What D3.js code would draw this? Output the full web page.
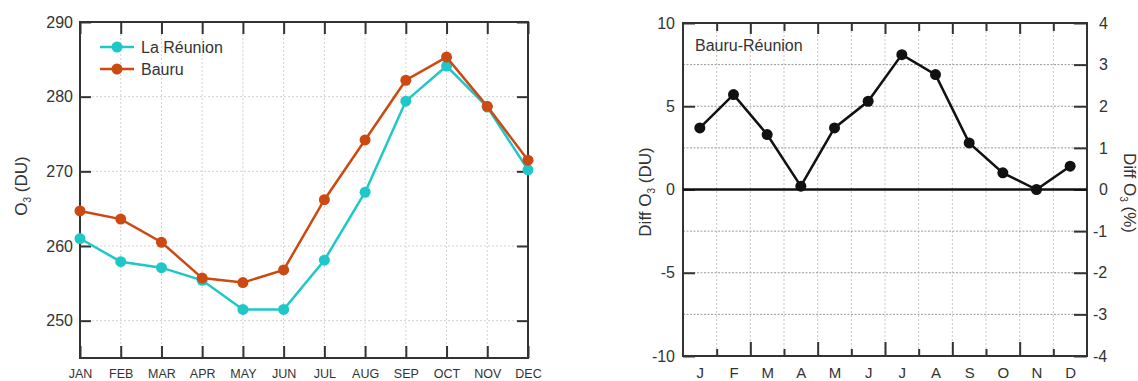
<!DOCTYPE html>
<html>
<head>
<meta charset="utf-8">
<script src="https://cdn.jsdelivr.net/npm/d3@7"></script>
<style>
  body { margin: 0; background: #fff; }
  svg { display: block; font-family: "Liberation Sans", Arial, sans-serif; }
  text { fill: #333; }
</style>
</head>
<body>
<svg id="chart" width="1138" height="381"></svg>
<script>
// ---------- data ----------
const monthsLong = ["JAN","FEB","MAR","APR","MAY","JUN","JUL","AUG","SEP","OCT","NOV","DEC"];
const monthsShort = ["J","F","M","A","M","J","J","A","S","O","N","D"];
const reunion = [261.0, 257.9, 257.1, 255.4, 251.5, 251.5, 258.1, 267.2, 279.4, 284.1, 278.6, 270.2];
const bauru   = [264.7, 263.6, 260.5, 255.7, 255.1, 256.8, 266.2, 274.2, 282.2, 285.3, 278.7, 271.5];
const diffDU  = [3.7, 5.7, 3.3, 0.2, 3.7, 5.3, 8.1, 6.9, 2.8, 1.0, 0.0, 1.4];
const leftYTicks = [250, 260, 270, 280, 290];
const diffYTicks = [-10, -5, 0, 5, 10];
const diffPctTicks = [-4, -3, -2, -1, 0, 1, 2, 3, 4];
const seriesNames = ["La Réunion", "Bauru"];

const cyan = "#1fc8c8", orange = "#cc4a12", frameCol = "#333";
const svg = d3.select("#chart");
const fmtInt = d => String(d); // plain hyphen-minus like the reference

// ---------- left chart ----------
const L = {l: 80, r: 528, t: 22, b: 358};
const xL = d3.scaleLinear().domain([0, 11]).range([L.l, L.r]);
const yL = d3.scaleLinear().domain([245, 290]).range([L.b, L.t]);
const gL = svg.append("g");

// grid
gL.append("g").selectAll("line").data(d3.range(1, 11)).join("line")
  .attr("x1", d => xL(d)).attr("x2", d => xL(d)).attr("y1", L.t).attr("y2", L.b)
  .attr("stroke", "#d4d4d4").attr("stroke-width", 1).attr("stroke-dasharray", "2,2");
gL.append("g").selectAll("line").data(leftYTicks.filter(v => v < 290)).join("line")
  .attr("x1", L.l).attr("x2", L.r).attr("y1", d => yL(d)).attr("y2", d => yL(d))
  .attr("stroke", "#d4d4d4").attr("stroke-width", 1).attr("stroke-dasharray", "2,2");

function styleAxis(g, size) {
  g.select(".domain").remove();
  g.selectAll(".tick line").attr("stroke", frameCol).attr("stroke-width", 2);
  g.selectAll(".tick text").attr("fill", "#333").style("font-size", size + "px")
   .style("font-family", "'Liberation Sans', Arial, sans-serif");
}

gL.append("g").attr("transform", `translate(${L.l},0)`)
  .call(d3.axisLeft(yL).tickValues(leftYTicks).tickFormat(fmtInt).tickSizeInner(-11).tickSizeOuter(0).tickPadding(7))
  .call(g => styleAxis(g, 16));
gL.append("g").attr("transform", `translate(${L.r},0)`)
  .call(d3.axisRight(yL).tickValues(leftYTicks).tickSizeInner(-11).tickSizeOuter(0).tickFormat(""))
  .call(g => styleAxis(g, 16));
gL.append("g").attr("transform", `translate(0,${L.b})`)
  .call(d3.axisBottom(xL).tickValues(d3.range(12)).tickSizeInner(-12).tickSizeOuter(0).tickPadding(11)
    .tickFormat(i => monthsLong[i]))
  .call(g => styleAxis(g, 12.5));
gL.append("g").attr("transform", `translate(0,${L.t})`)
  .call(d3.axisTop(xL).tickValues(d3.range(12)).tickSizeInner(-12).tickSizeOuter(0).tickFormat(""))
  .call(g => styleAxis(g, 12));

gL.append("rect").attr("x", L.l).attr("y", L.t).attr("width", L.r - L.l).attr("height", L.b - L.t)
  .attr("fill", "none").attr("stroke", frameCol).attr("stroke-width", 2);

const lineL = d3.line().x((d, i) => xL(i)).y(d => yL(d));
[[reunion, cyan], [bauru, orange]].forEach(([data, col]) => {
  gL.append("path").datum(data).attr("d", lineL).attr("fill", "none")
    .attr("stroke", col).attr("stroke-width", 2.5);
  gL.append("g").selectAll("circle").data(data).join("circle")
    .attr("cx", (d, i) => xL(i)).attr("cy", d => yL(d)).attr("r", 5.5).attr("fill", col);
});

// legend
const leg = gL.append("g");
[[seriesNames[0], cyan], [seriesNames[1], orange]].forEach(([name, col], i) => {
  const yy = 47 + i * 22;
  leg.append("line").attr("x1", 100).attr("x2", 134).attr("y1", yy).attr("y2", yy)
    .attr("stroke", col).attr("stroke-width", 2.5);
  leg.append("circle").attr("cx", 117).attr("cy", yy).attr("r", 5.5).attr("fill", col);
  leg.append("text").attr("x", 141).attr("y", yy).attr("dy", "0.35em")
    .style("font-size", "16px").text(name);
});

// left y title
const tL = gL.append("text").attr("transform", "translate(27,186) rotate(-90)")
  .attr("text-anchor", "middle").style("font-size", "17px");
tL.append("tspan").text("O");
tL.append("tspan").attr("dy", 4).style("font-size", "10px").text("3");
tL.append("tspan").attr("dy", -4).text(" (DU)");

// ---------- right chart ----------
const R = {l: 683, r: 1087, t: 23, b: 356};
const xR = d3.scaleLinear().domain([0, 12]).range([R.l, R.r]);
const yR = d3.scaleLinear().domain([-10, 10]).range([R.b, R.t]);
const yP = d3.scaleLinear().domain([-4, 4]).range([R.b, R.t]);
const gR = svg.append("g");

gR.append("g").selectAll("line").data(d3.range(1, 12)).join("line")
  .attr("x1", d => xR(d)).attr("x2", d => xR(d)).attr("y1", R.t).attr("y2", R.b)
  .attr("stroke", "#c8c8c8").attr("stroke-width", 1).attr("stroke-dasharray", "2,2");
gR.append("g").selectAll("line").data([-7.5, -5, -2.5, 2.5, 5, 7.5]).join("line")
  .attr("x1", R.l).attr("x2", R.r).attr("y1", d => yR(d)).attr("y2", d => yR(d))
  .attr("stroke", "#999").attr("stroke-width", 1).attr("stroke-dasharray", "2,1.5");

gR.append("g").attr("transform", `translate(${R.l},0)`)
  .call(d3.axisLeft(yR).tickValues(diffYTicks).tickFormat(fmtInt).tickSizeInner(-12).tickSizeOuter(0).tickPadding(8))
  .call(g => styleAxis(g, 16));
gR.append("g").attr("transform", `translate(${R.r},0)`)
  .call(d3.axisRight(yP).tickValues(diffPctTicks).tickFormat(fmtInt).tickSizeInner(-13).tickSizeOuter(0).tickPadding(12))
  .call(g => styleAxis(g, 16))
  .call(g => g.selectAll(".tick text").attr("dx", d => d < 0 ? -6 : 0));
// bottom ticks at month boundaries (long at even, short at odd)
gR.append("g").attr("transform", `translate(0,${R.b})`)
  .call(d3.axisBottom(xR).tickValues(d3.range(1, 12).filter(d => d % 2 === 0)).tickSizeInner(-14).tickSizeOuter(0).tickFormat(""))
  .call(g => styleAxis(g, 15));
gR.append("g").attr("transform", `translate(0,${R.b})`)
  .call(d3.axisBottom(xR).tickValues(d3.range(1, 12).filter(d => d % 2 === 1)).tickSizeInner(-7).tickSizeOuter(0).tickFormat(""))
  .call(g => styleAxis(g, 15));
gR.append("g").attr("transform", `translate(0,${R.t})`)
  .call(d3.axisTop(xR).tickValues(d3.range(1, 12).filter(d => d % 2 === 0)).tickSizeInner(-11).tickSizeOuter(0).tickFormat(""))
  .call(g => styleAxis(g, 15));
gR.append("g").attr("transform", `translate(0,${R.t})`)
  .call(d3.axisTop(xR).tickValues(d3.range(1, 12).filter(d => d % 2 === 1)).tickSizeInner(-8).tickSizeOuter(0).tickFormat(""))
  .call(g => styleAxis(g, 15));
// month labels at centres
gR.append("g").attr("transform", `translate(0,${R.b})`)
  .call(d3.axisBottom(xR).tickValues(d3.range(12).map(i => i + 0.5)).tickSize(0).tickPadding(11)
    .tickFormat(d => monthsShort[Math.floor(d)]))
  .call(g => styleAxis(g, 15));

gR.append("rect").attr("x", R.l).attr("y", R.t).attr("width", R.r - R.l).attr("height", R.b - R.t)
  .attr("fill", "none").attr("stroke", frameCol).attr("stroke-width", 2);
// zero line
gR.append("line").attr("x1", R.l).attr("x2", R.r).attr("y1", yR(0)).attr("y2", yR(0))
  .attr("stroke", "#111").attr("stroke-width", 2.5);

const lineR = d3.line().x((d, i) => xR(i + 0.5)).y(d => yR(d));
gR.append("path").datum(diffDU).attr("d", lineR).attr("fill", "none")
  .attr("stroke", "#111").attr("stroke-width", 2.5);
gR.append("g").selectAll("circle").data(diffDU).join("circle")
  .attr("cx", (d, i) => xR(i + 0.5)).attr("cy", d => yR(d)).attr("r", 5.5).attr("fill", "#111");

gR.append("text").attr("x", 695).attr("y", 51).style("font-size", "16px").text("Bauru-Réunion");

const tR1 = gR.append("text").attr("transform", "translate(651,192) rotate(-90)")
  .attr("text-anchor", "middle").style("font-size", "17px");
tR1.append("tspan").text("Diff O");
tR1.append("tspan").attr("dy", 4).style("font-size", "10px").text("3");
tR1.append("tspan").attr("dy", -4).text(" (DU)");

const tR2 = gR.append("text").attr("transform", "translate(1124,193) rotate(90)")
  .attr("text-anchor", "middle").style("font-size", "17px");
tR2.append("tspan").text("Diff O");
tR2.append("tspan").attr("dy", 4).style("font-size", "10px").text("3");
tR2.append("tspan").attr("dy", -4).text(" (%)");
</script>
</body>
</html>
